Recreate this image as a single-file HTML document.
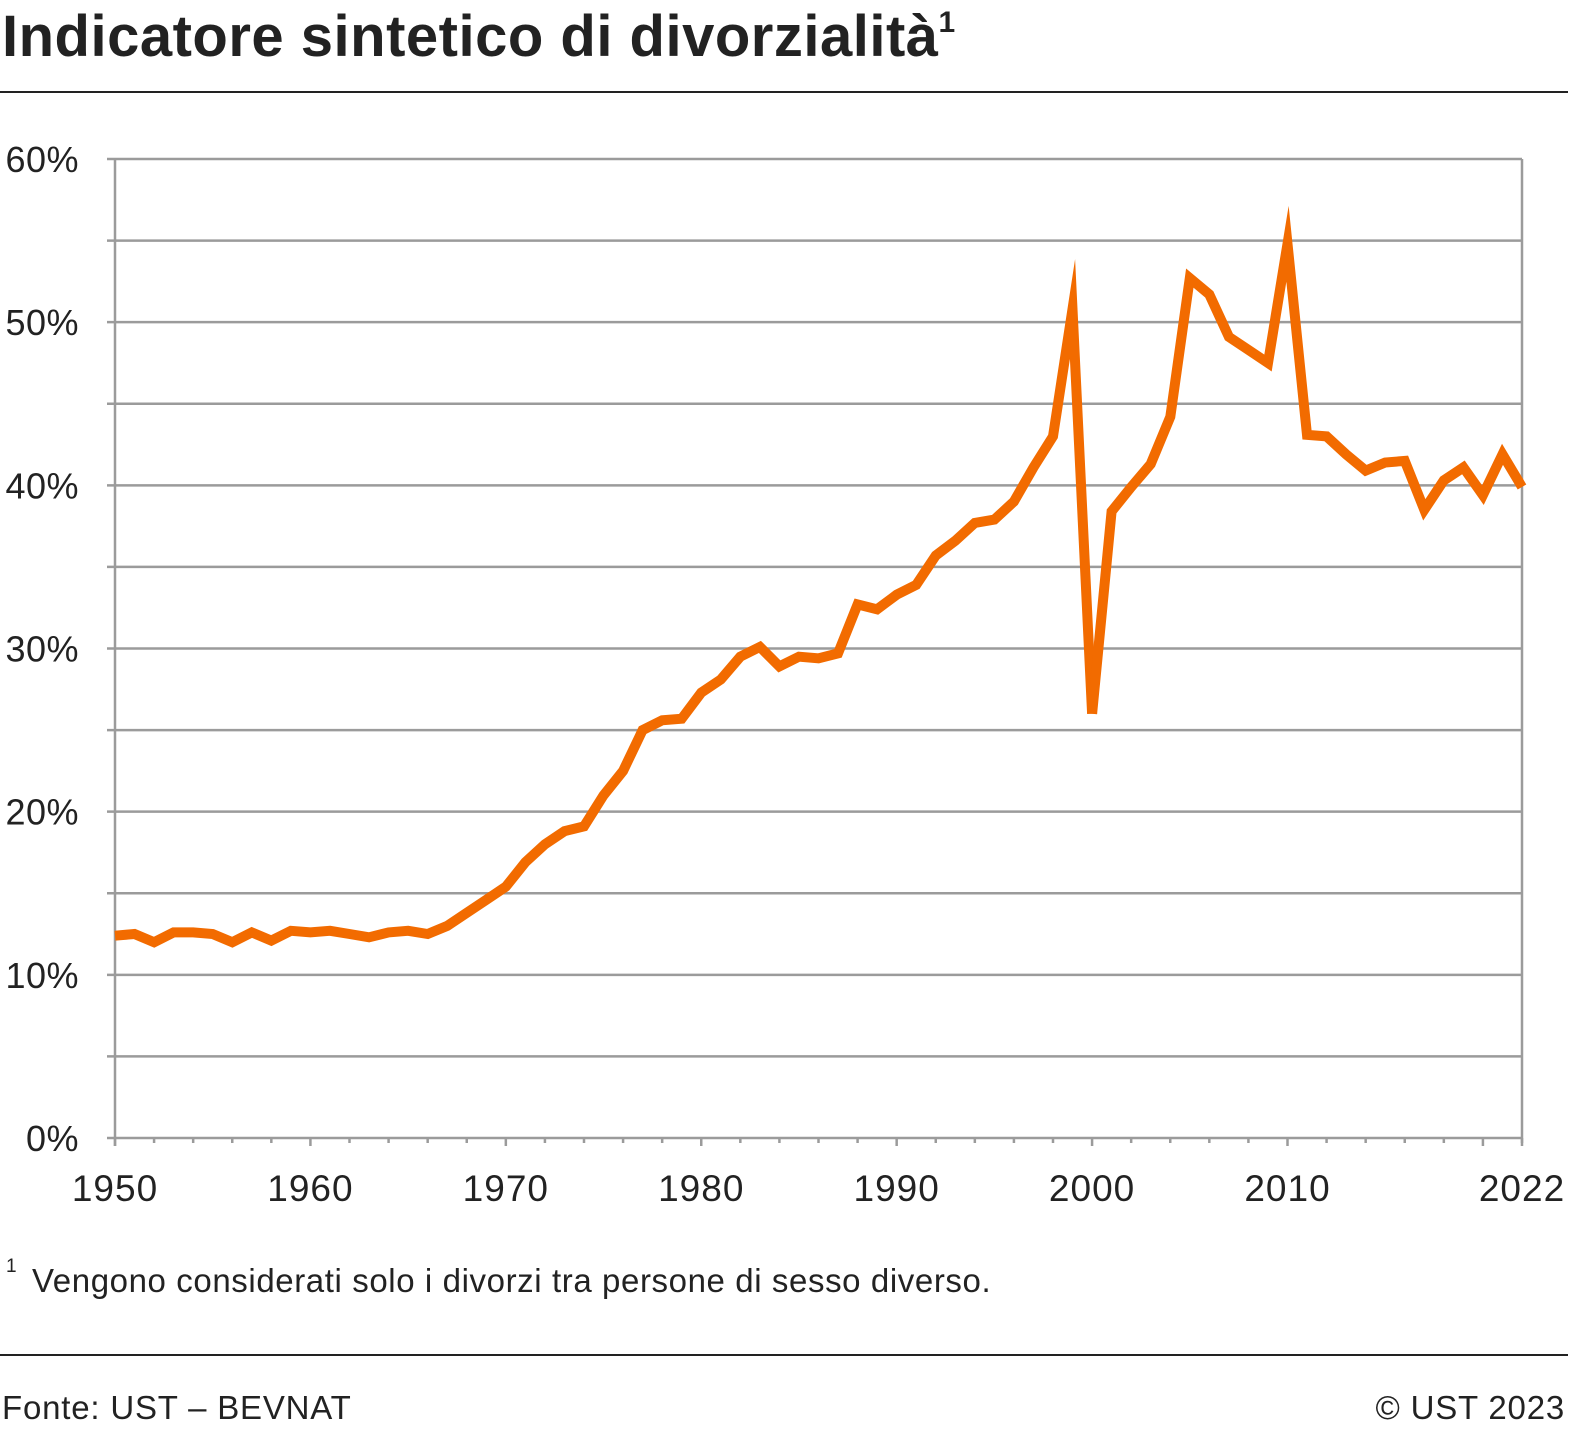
<!DOCTYPE html>
<html><head><meta charset="utf-8"><style>
body{margin:0;background:#fff;width:1590px;height:1449px;overflow:hidden;font-family:"Liberation Sans",sans-serif;color:#222}
</style></head><body>
<svg width="1590" height="1449" xmlns="http://www.w3.org/2000/svg">
<text x="2" y="56" font-size="58" font-weight="bold" fill="#222" letter-spacing="0.5">Indicatore sintetico di divorzialità<tspan font-size="30" dy="-24">1</tspan></text>
<line x1="0" y1="92" x2="1568" y2="92" stroke="#222" stroke-width="2"/>
<g id="grid"></g><g id="axes"></g>
<path id="lineA" fill="none" stroke="#f26b00" stroke-width="10" stroke-linejoin="miter" stroke-miterlimit="30"/>
<path id="lineB" fill="none" stroke="#f26b00" stroke-width="10" stroke-linejoin="miter" stroke-miterlimit="30"/>
<text x="6" y="1272" font-size="19" fill="#222">1</text>
<text x="32" y="1292" font-size="33" fill="#222" letter-spacing="0.6">Vengono considerati solo i divorzi tra persone di sesso diverso.</text>
<line x1="0" y1="1355" x2="1568" y2="1355" stroke="#222" stroke-width="2"/>
<text x="2" y="1419" font-size="33" fill="#222" letter-spacing="0.8">Fonte: UST – BEVNAT</text>
<text x="1565" y="1419" font-size="33" fill="#222" text-anchor="end" letter-spacing="0.8">© UST 2023</text>
</svg>
<script>
const years=[];for(let y=1950;y<=2022;y++)years.push(y);
const values=[12.4,12.5,12.0,12.6,12.6,12.5,12.0,12.6,12.1,12.7,12.6,12.7,12.5,12.3,12.6,12.7,12.5,13.0,13.8,14.6,15.4,16.9,18.0,18.8,19.1,21.0,22.5,25.0,25.6,25.7,27.3,28.1,29.5,30.1,28.9,29.5,29.4,29.7,32.7,32.4,33.3,33.9,35.7,36.6,37.7,37.9,39.0,41.1,43.0,50.8,26.0,38.4,39.9,41.3,44.2,52.7,51.7,49.1,48.3,47.5,54.8,43.1,43.0,41.9,40.9,41.4,41.5,38.5,40.3,41.1,39.4,41.9,39.9];
const yTicks=[0,10,20,30,40,50,60];
const xLabels=[1950,1960,1970,1980,1990,2000,2010,2022];
const X0=115,X1=1522,Y0=1138,Y1=159;
const xs=y=>X0+(y-1950)*(X1-X0)/72;
const ys=v=>Y0-v*(Y0-Y1)/60;
const NS="http://www.w3.org/2000/svg";
function mk(t,a,p){const e=document.createElementNS(NS,t);for(const k in a)e.setAttribute(k,a[k]);p.appendChild(e);return e;}
const grid=document.getElementById('grid'),axes=document.getElementById('axes');
for(let v=5;v<=60;v+=5){const l=mk('line',{x1:107,x2:X1,y1:ys(v),y2:ys(v),stroke:'#9b9b9b','stroke-width':2.5},grid);

}
yTicks.forEach(v=>{const t=mk('text',{x:79,y:ys(v)+13,'font-size':36,'text-anchor':'end',fill:'#222','letter-spacing':0.5},axes);t.textContent=v+'%';

});
const la=mk('line',{x1:X0,x2:X0,y1:Y1,y2:Y0+8,stroke:'#9b9b9b','stroke-width':2.5},axes);


const ra=mk('line',{x1:X1,x2:X1,y1:Y1,y2:Y0+8,stroke:'#9b9b9b','stroke-width':2.5},axes);


const xa=mk('line',{x1:107,x2:X1,y1:Y0,y2:Y0,stroke:'#9b9b9b','stroke-width':2.5},axes);


for(let y=1950;y<=2022;y+=2){const tk=mk('line',{x1:xs(y),x2:xs(y),y1:Y0,y2:Y0+(y%10==0?8:5),stroke:'#9b9b9b','stroke-width':2.5},axes);

}
xLabels.forEach(y=>{const t=mk('text',{x:xs(y),y:1201,'font-size':37,'text-anchor':'middle',fill:'#222','letter-spacing':1},axes);t.textContent=y;

});
const split=years.indexOf(2000);
const pts=values.map((v,i)=>xs(years[i]).toFixed(1)+','+ys(v).toFixed(1));
document.getElementById('lineA').setAttribute('d','M'+pts.slice(0,split+1).join('L'));
document.getElementById('lineB').setAttribute('d','M'+pts.slice(split).join('L'));
</script>
</body></html>
